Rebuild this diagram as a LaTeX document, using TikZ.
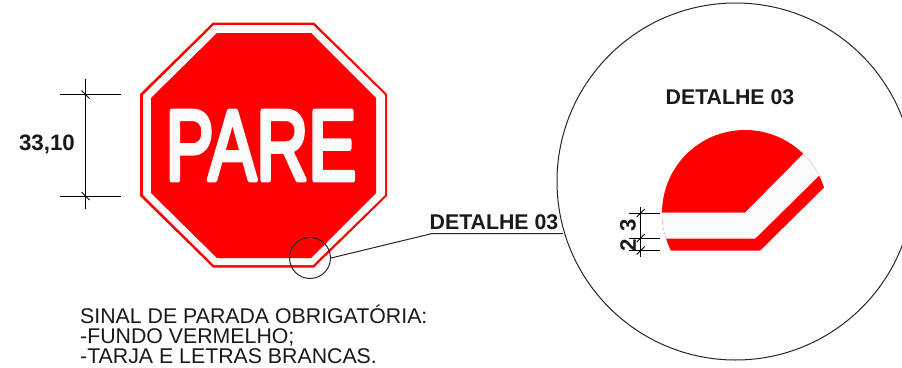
\documentclass[tikz,border=0pt]{standalone}
\usepackage{fontspec}
\setmainfont{Liberation Sans}
\newfontfamily\parefont[FakeBold=5]{Liberation Sans}
\definecolor{signred}{RGB}{255,0,0}
\definecolor{signwhite}{RGB}{250,250,250}

\begin{document}
\begin{tikzpicture}[
  x=1pt,y=-1pt,
  every node/.style={align=left,inner sep=0pt},
  dim/.style={draw=black,line width=.9pt},
  leader/.style={draw=black!85,line width=1pt},
  title/.style={font=\fontsize{21.3}{21.3}\selectfont\bfseries,text=black!90},
  value/.style={font=\fontsize{22.3}{22.3}\selectfont\bfseries,text=black!90},
  note/.style={font=\fontsize{21.3}{20}\selectfont,text=black!90},
  ring/.style={circle,draw=black!85,line width=1pt}]

  \clip (0,0) rectangle (902,367);

  % Octagon, from the outer band inwards
  \fill[signred] (213,22.5) -- (314,22.5) -- (387,94) -- (387,196) -- (314,267.5) -- (213,267.5) -- (140,196) -- (140,94) -- cycle;
  \fill[signwhite] (214,25) -- (313,25) -- (385,95) -- (385,195) -- (313,265) -- (214,265) -- (143,195) -- (143,95) -- cycle;
  \fill[signred] (217,33) -- (311,33) -- (376,98) -- (376,193) -- (311,258) -- (217,258) -- (151,193) -- (151,98) -- cycle;
  \begin{scope}[line join=round]
    \node[text=signwhite,xscale=.72,font=\parefont\fontsize{100}{100}\selectfont] (pare) at (261,145.5) {PARE};
  \end{scope}

  % Height of the sign
  \draw[dim] (85.3,79) -- (85.3,209);
  \draw[dim] (60,94.5) -- (121,94.5);
  \draw[dim] (60,196) -- (121,196);
  \draw[dim] (81.5,90.5) -- (89.5,98.5);
  \draw[dim] (81.5,192) -- (89.5,200);
  \node[value] (height) at (47,144) {33,10};

  % Detail circle with the corner of the sign
  \node[ring,minimum size=357pt] (detail) at (735.5,181.5) {};
  \node[title] (detailtitle) at (730,97) {DETALHE 03};
  \begin{scope}
    \clip (650,120) -- (850,120) -- (850,163.5) -- (824,187.5) -- (760,250.7) -- (650,250.7) -- cycle;
    \fill[signred] (745,213) circle[radius=83];
  \end{scope}
  \begin{scope}
    \clip (650,212.7) -- (745,212.7) -- (815,142) -- (835,160) -- (755,238.7) -- (650,238.7) -- cycle;
    \fill[signwhite] (745,213) circle[radius=83];
  \end{scope}

  % Widths of the band and of the border
  \draw[dim] (640.7,207) -- (640.7,257);
  \draw[dim] (629,213) -- (660,213);
  \draw[dim] (629,238) -- (660,238);
  \draw[dim] (629,250.5) -- (660,250.5);
  \draw[dim] (636.7,217) -- (644.7,209);
  \draw[dim] (636.7,242) -- (644.7,234);
  \draw[dim] (636.7,254.5) -- (644.7,246.5);
  \node[value,rotate=90] (bandwidth) at (628,225.5) {3};
  \node[value,rotate=90] (borderwidth) at (628,245) {2};

  % Small circle on the sign and its leader line
  \node[ring,minimum size=41pt] (spot) at (310,258) {};
  \coordinate (knee) at (431.5,233.7);
  \coordinate (leaderend) at (563,233.7);
  \node[title] (detaillabel) at (494,222.5) {DETALHE 03};
  \draw[leader] (spot.east) -- (knee) -- (leaderend);

  % Description
  \node[note,anchor=north west] (notes) at (80,304.5) {SINAL DE PARADA OBRIGATÓRIA:\\-FUNDO VERMELHO;\\-TARJA E LETRAS BRANCAS.};
\end{tikzpicture}
\end{document}
